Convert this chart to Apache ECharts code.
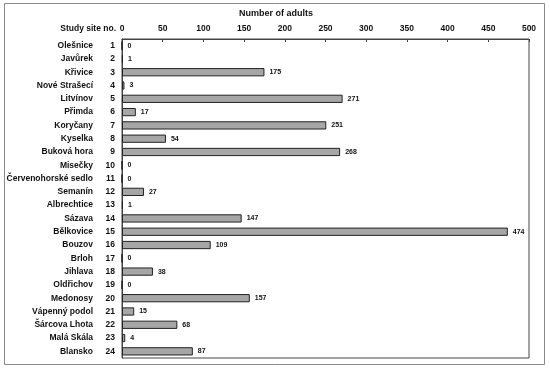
<!DOCTYPE html>
<html>
<head>
<meta charset="utf-8">
<script src="https://cdn.jsdelivr.net/npm/echarts@6/dist/echarts.min.js"></script>
<style>
html,body{margin:0;padding:0;background:#fff;}
#c{width:550px;height:373px;}
</style>
</head>
<body>
<div id="c"></div>
<script>
const siteNames = ["Olešnice","Javůrek","Křivice","Nové Strašecí","Litvínov","Přimda","Koryčany","Kyselka","Buková hora","Misečky","Červenohorské sedlo","Semanín","Albrechtice","Sázava","Bělkovice","Bouzov","Brloh","Jihlava","Oldřichov","Medonosy","Vápenný podol","Šárcova Lhota","Malá Skála","Blansko"];
const siteNumbers = [1,2,3,4,5,6,7,8,9,10,11,12,13,14,15,16,17,18,19,20,21,22,23,24];
const adults = [0,1,175,3,271,17,251,54,268,0,0,27,1,147,474,109,0,38,0,157,15,68,4,87];
const xTicks = {min:0, max:500, interval:50};

const FONT = '"Liberation Sans", Arial, sans-serif';
const chart = echarts.init(document.getElementById('c'), null, {renderer:'canvas'});
chart.setOption({
  animation:false,
  backgroundColor:'#fff',
  textStyle:{fontFamily:FONT},
  graphic:[
    {type:'rect', shape:{x:4.5,y:3.5,width:540,height:361}, style:{fill:'none', stroke:'#8a8a8a', lineWidth:1}, silent:true},
    {type:'text', x:116, y:29, style:{text:'Study site no.', font:'bold 8.5px '+FONT, fill:'#111', align:'right', verticalAlign:'middle'}},
    {type:'text', x:276, y:14, style:{text:'Number of adults', font:'bold 9px '+FONT, fill:'#111', align:'center', verticalAlign:'middle'}}
  ],
  grid:{left:122, right:21, top:39, bottom:15, show:true, borderColor:'#444', borderWidth:1, containLabel:false},
  xAxis:{
    type:'value', position:'top', min:xTicks.min, max:xTicks.max, interval:xTicks.interval,
    axisLine:{show:true, lineStyle:{color:'#444', width:1}},
    axisTick:{show:true, inside:true, length:3, lineStyle:{color:'#444'}},
    splitLine:{show:false},
    axisLabel:{color:'#111', fontWeight:'bold', fontSize:8.5, margin:6, fontFamily:FONT}
  },
  yAxis:{
    type:'category', inverse:true, data:siteNames,
    axisLine:{show:true, lineStyle:{color:'#444', width:1}},
    axisTick:{show:false},
    axisLabel:{
      margin:7, interval:0,
      formatter:(v,i)=>'{n|'+v+'}{i|'+siteNumbers[i]+'}',
      rich:{
        n:{fontWeight:'bold', fontSize:8.5, color:'#111', fontFamily:FONT},
        i:{fontWeight:'bold', fontSize:8.5, color:'#111', width:22, align:'right', fontFamily:FONT}
      }
    }
  },
  series:[{
    type:'bar', data:adults, barCategoryGap:'38%',
    itemStyle:{color:'#a6a6a6', borderColor:'#222', borderWidth:1},
    label:{show:true, position:'right', distance:5, color:'#111', fontWeight:'bold', fontSize:7, fontFamily:FONT}
  }]
});
</script>
</body>
</html>
